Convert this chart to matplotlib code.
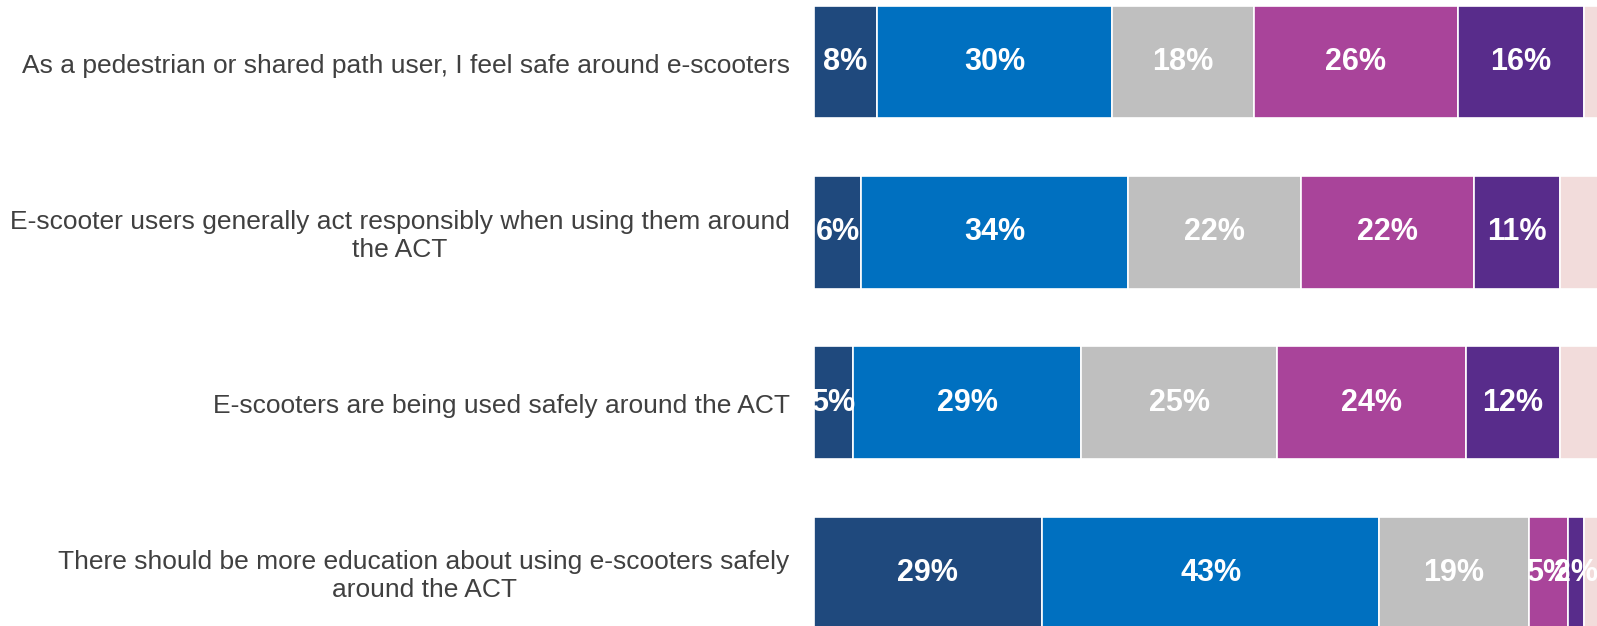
import numpy as np
import matplotlib
matplotlib.use("Agg")
from matplotlib import pyplot as plt

plt.rcParams['font.family'] = ['Liberation Sans', 'DejaVu Sans']

statements = [
    "As a pedestrian or shared path user, I feel safe around e-scooters",
    "E-scooter users generally act responsibly when using them around\nthe ACT",
    "E-scooters are being used safely around the ACT",
    "There should be more education about using e-scooters safely\naround the ACT",
]

# one list per response level, same order as statements
strongly_agree = [8, 6, 5, 29]
agree = [30, 34, 29, 43]
neutral = [18, 22, 25, 19]
disagree = [26, 22, 24, 5]
strongly_disagree = [16, 11, 12, 2]
dont_know = [2, 5, 5, 2]

series = [strongly_agree, agree, neutral, disagree, strongly_disagree, dont_know]
colors = ["#1f497d", "#0070c0", "#bfbfbf", "#a9449a", "#582c8b", "#f2dcdb"]

fig = plt.figure(figsize=(15.97, 6.26), dpi=100)
ax = fig.add_axes([814 / 1597, 0, 1 - 814 / 1597, 1])

y = np.arange(len(statements))
left = np.zeros(len(statements))
for i, (vals, col) in enumerate(zip(series, colors)):
    vals = np.array(vals, dtype=float)
    ax.barh(y, vals, left=left, height=0.66, color=col,
            edgecolor="white", linewidth=1.2)
    # last segment is cut off by the frame, no label visible
    if i < len(series) - 1:
        for yy, l, v in zip(y, left, vals):
            ax.text(l + v / 2, yy, f"{int(v)}%", ha="center", va="center",
                    color="white", fontsize=22, fontweight="bold")
    left += vals

ax.set_xlim(0, 99.7)
ax.set_ylim(3.312, -0.365)
ax.axis("off")

for yy, s in zip(y, statements):
    ax.text(-3.1, yy + 0.02, s, ha="right", va="center", multialignment="center",
            fontsize=19, color="#404040", clip_on=False)

fig.savefig("out.png", dpi=100)
